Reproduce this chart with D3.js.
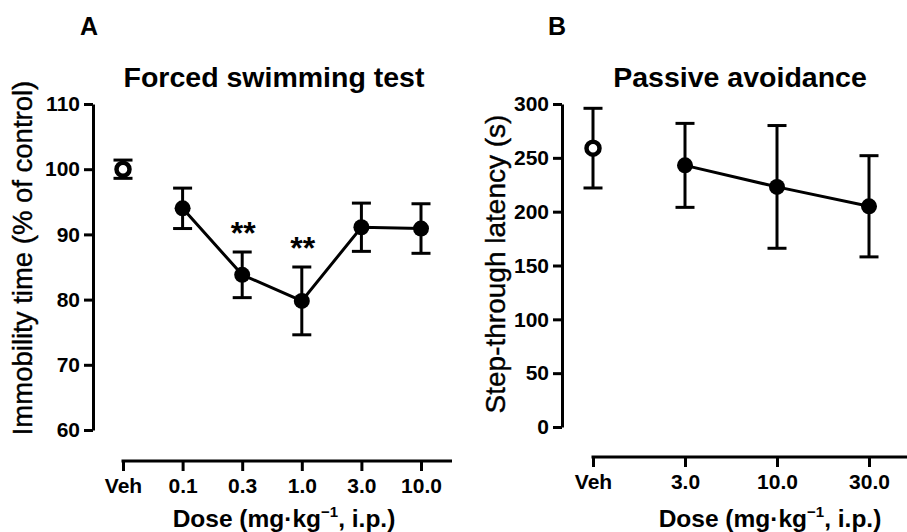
<!DOCTYPE html>
<html>
<head>
<meta charset="utf-8">
<script src="https://cdn.jsdelivr.net/npm/d3@7"></script>
<style>
  html, body { margin: 0; padding: 0; background: #fff; }
  svg { display: block; font-family: "Liberation Sans", Arial, sans-serif; }
</style>
</head>
<body>
<svg id="chart" width="907" height="532"></svg>
<script>
// ---- Data ----
const dosesA = ["Veh", "0.1", "0.3", "1.0", "3.0", "10.0"];
const meanA  = [100, 94, 83.8, 79.8, 91.1, 90.9];
const semA   = [1.4, 3.1, 3.5, 5.2, 3.7, 3.8];
const sigA   = ["", "", "**", "**", "", ""];
const ticksA = [60, 70, 80, 90, 100, 110];

const dosesB = ["Veh", "3.0", "10.0", "30.0"];
const meanB  = [259, 243, 223, 205];
const semB   = [37, 39, 57, 47];
const ticksB = [0, 50, 100, 150, 200, 250, 300];

const svg = d3.select("#chart");
const INK = "#000";

function panel(cfg) {
  const g = svg.append("g");
  const x = d3.scalePoint().domain(cfg.doses).range(cfg.xRange);
  const y = d3.scaleLinear().domain(cfg.yDomain).range(cfg.yRange);

  // Y axis
  const yAxis = d3.axisLeft(y).tickValues(cfg.yTicks).tickSize(9).tickSizeOuter(0).tickPadding(4);
  const ya = g.append("g").attr("transform", `translate(${cfg.yAxisX},0)`).call(yAxis);
  ya.select(".domain").attr("stroke-width", 3).attr("stroke", INK);
  ya.selectAll(".tick line").attr("stroke-width", 3).attr("stroke", INK);
  ya.selectAll(".tick text").attr("font-size", 21).attr("font-weight", "bold")
    .attr("fill", INK).attr("font-family", "Liberation Sans, Arial, sans-serif");

  // X axis
  const xAxis = d3.axisBottom(x).tickSize(10).tickSizeOuter(0).tickPadding(7);
  const xa = g.append("g").attr("transform", `translate(0,${cfg.xAxisY})`).call(xAxis);
  xa.select(".domain").remove();
  xa.append("line")
    .attr("x1", x(cfg.doses[0]) - 1.5).attr("x2", x(cfg.doses[cfg.doses.length - 1]) + cfg.xExtend)
    .attr("y1", 0).attr("y2", 0).attr("stroke", INK).attr("stroke-width", 3);
  xa.selectAll(".tick line").attr("stroke-width", 3).attr("stroke", INK);
  xa.selectAll(".tick text").attr("font-size", 21).attr("font-weight", "bold")
    .attr("fill", INK).attr("font-family", "Liberation Sans, Arial, sans-serif");

  const data = cfg.doses.map((d, i) => ({ d, m: cfg.mean[i], s: cfg.sem[i], sig: cfg.sig ? cfg.sig[i] : "" }));

  // connecting line (treated doses only)
  const line = d3.line().x(p => x(p.d)).y(p => y(p.m));
  g.append("path").datum(data.slice(1))
    .attr("d", line).attr("fill", "none").attr("stroke", INK).attr("stroke-width", 3);

  // error bars
  const eb = g.append("g").selectAll("g").data(data).join("g");
  eb.append("line")
    .attr("x1", p => x(p.d)).attr("x2", p => x(p.d))
    .attr("y1", p => y(p.m - p.s)).attr("y2", p => y(p.m + p.s))
    .attr("stroke", INK).attr("stroke-width", 3);
  [1, -1].forEach(sgn => {
    eb.append("line")
      .attr("x1", p => x(p.d) - 9.5).attr("x2", p => x(p.d) + 9.5)
      .attr("y1", p => y(p.m + sgn * p.s)).attr("y2", p => y(p.m + sgn * p.s))
      .attr("stroke", INK).attr("stroke-width", 3);
  });

  // markers
  g.append("g").selectAll("circle").data(data).join("circle")
    .attr("cx", p => x(p.d)).attr("cy", p => y(p.m))
    .attr("r", (p, i) => i === 0 ? 6.5 : 8)
    .attr("fill", (p, i) => i === 0 ? "#fff" : INK)
    .attr("stroke", INK).attr("stroke-width", (p, i) => i === 0 ? 4.5 : 0);

  // significance stars
  g.append("g").selectAll("text").data(data.filter(p => p.sig)).join("text")
    .attr("x", p => x(p.d) + 1).attr("y", p => y(p.m + p.s) - 8)
    .attr("text-anchor", "middle").attr("font-size", 32).attr("font-weight", "bold")
    .attr("fill", INK).text(p => p.sig);

  // panel letter
  g.append("text").attr("x", cfg.letterX).attr("y", 35)
    .attr("font-size", 25).attr("font-weight", "bold").attr("fill", INK).text(cfg.letter);

  // title
  g.append("text").attr("x", cfg.titleX).attr("y", 87).attr("text-anchor", "middle")
    .attr("font-size", 28.5).attr("font-weight", "bold").attr("fill", INK).text(cfg.title);

  // y label
  g.append("text")
    .attr("transform", `translate(${cfg.yLabelX},${cfg.yLabelY}) rotate(-90)`)
    .attr("text-anchor", "middle").attr("font-size", cfg.yLabelSize).attr("fill", INK)
    .attr("stroke", INK).attr("stroke-width", 0.4)
    .text(cfg.yLabel);

  // x label
  const xl = g.append("text").attr("x", cfg.xLabelX).attr("y", 527).attr("text-anchor", "middle")
    .attr("font-size", 24.5).attr("font-weight", "bold").attr("fill", INK);
  xl.append("tspan").text("Dose (mg·kg");
  xl.append("tspan").attr("font-size", 15).attr("dy", -10).text("\u22121");
  xl.append("tspan").attr("dy", 10).text(", i.p.)");
}

panel({
  doses: dosesA, mean: meanA, sem: semA, sig: sigA,
  xRange: [123, 421], yDomain: [60, 110], yRange: [430, 104], yTicks: ticksA,
  yAxisX: 93, xAxisY: 461, xExtend: 31,
  letter: "A", letterX: 80, title: "Forced swimming test", titleX: 274,
  yLabel: "Immobility time (% of control)", yLabelX: 32, yLabelY: 258, yLabelSize: 27.5,
  xLabelX: 284
});

panel({
  doses: dosesB, mean: meanB, sem: semB, sig: null,
  xRange: [593, 869], yDomain: [0, 300], yRange: [427, 104], yTicks: ticksB,
  yAxisX: 562, xAxisY: 457, xExtend: 40,
  letter: "B", letterX: 548, title: "Passive avoidance", titleX: 740,
  yLabel: "Step-through latency (s)", yLabelX: 505, yLabelY: 264, yLabelSize: 28,
  xLabelX: 770
});
</script>
</body>
</html>
